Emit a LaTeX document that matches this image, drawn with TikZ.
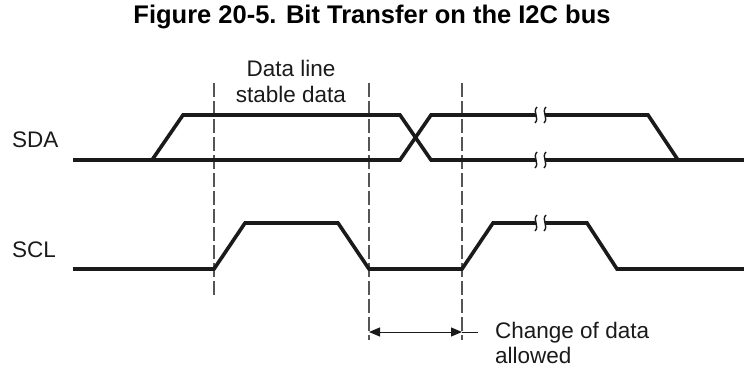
\documentclass[tikz,border=0pt]{standalone}
\usepackage{fontspec}
\setmainfont{Liberation Sans}
\usetikzlibrary{arrows.meta}
\definecolor{ink}{HTML}{1A1A1A}
\definecolor{guide}{HTML}{555555}
\begin{document}
\begin{tikzpicture}[x=1pt,y=-1pt,
  signal/.style={draw=ink,line width=3.6pt,line join=miter},
  guideline/.style={draw=guide,line width=1.2pt,dash pattern=on 14pt off 4pt},
  brk/.style={draw=ink,line width=1.4pt},
  lbl/.style={font=\fontsize{22.5}{27}\selectfont,text=ink,inner sep=0pt},
  dim/.style={draw=ink,line width=1pt},
  tips/.style={{Triangle[length=11pt,width=9pt]}-{Triangle[length=11pt,width=9pt]}}]
\useasboundingbox (0,0) rectangle (744,369);
% title
\node[font=\bfseries\fontsize{25.5}{30}\selectfont,inner sep=0pt,anchor=base] (title) at (372,24) {Figure 20-5. Bit Transfer on the I2C bus};
% labels
\node[lbl,anchor=base west] (sda) at (12,147) {SDA};
\node[lbl,anchor=base west] (scl) at (12,257) {SCL};
\node[lbl,anchor=base] (dl1) at (291,77) {Data line};
\node[lbl,anchor=base] (dl2) at (291,102) {stable data};
\node[lbl,anchor=base west] (ch1) at (495,338) {Change of data};
\node[lbl,anchor=base west] (ch2) at (495,363) {allowed};
% guides
\draw[guideline] (214,83) -- (214,298);
\draw[guideline] (369,83) -- (369,340);
\draw[guideline] (462,83) -- (462,340);
% SDA
\draw[signal] (73,160) -- (152,160) -- (183,115) -- (400,115) -- (431,160) -- (536,160);
\draw[signal] (152,160) -- (400,160) -- (431,115) -- (536,115);
\draw[signal] (545,115) -- (648,115) -- (678,160) -- (744,160);
\draw[signal] (545,160) -- (678,160);
% SCL
\draw[signal] (73,269) -- (214,269) -- (245,223) -- (338,223) -- (369,269) -- (462,269) -- (493,223) -- (536,223);
\draw[signal] (545,223) -- (587,223) -- (617,269) -- (744,269);
% break marks
\foreach \y in {115,160,223}{
  \draw[brk] (537,\y-8) .. controls (532,\y-3) and (540,\y+3) .. (535,\y+8);
  \draw[brk] (546,\y-8) .. controls (541,\y-3) and (549,\y+3) .. (544,\y+8);
}
% dimension arrow
\coordinate (aL) at (369,332);
\coordinate (aR) at (462,332);
\coordinate (aE) at (478,332);
\draw[dim,tips] (aL) -- (aR);
\draw[dim] (aR) -- (aE);
\end{tikzpicture}
\end{document}
